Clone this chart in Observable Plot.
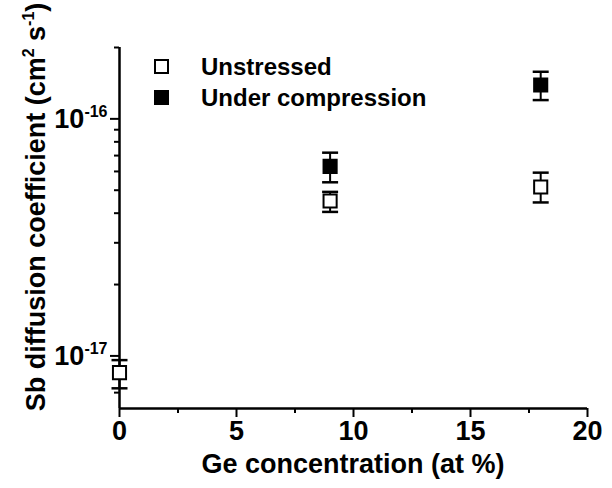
<!DOCTYPE html>
<html><head><meta charset="utf-8">
<script src="https://cdn.jsdelivr.net/npm/d3@7"></script>
<script src="https://cdn.jsdelivr.net/npm/@observablehq/plot@0.6"></script>
<style>
body{margin:0;background:#fff;}
#chart{position:relative;width:612px;height:488px;font-family:"Liberation Sans",Arial,sans-serif;}
#legend{position:absolute;left:154px;top:51px;font-size:24px;font-weight:bold;color:#000;}
.item{display:flex;align-items:center;height:31px;}
.sw{width:11px;height:11px;border:2px solid #000;margin-right:32px;box-sizing:content-box;}
</style></head>
<body><div id="chart"><div id="legend"></div></div>
<script>
// ---- data ----
const seriesNames = ["Unstressed", "Under compression"];
const seriesFill = ["white", "black"];

const geUnstressed = [0, 9, 18];
const dUnstressed = [8.5e-18, 4.5e-17, 5.16e-17];
const loUnstressed = [7.3e-18, 4.05e-17, 4.44e-17];
const hiUnstressed = [9.6e-18, 4.92e-17, 5.93e-17];

const geCompression = [9, 18];
const dCompression = [6.3e-17, 1.39e-16];
const loCompression = [5.4e-17, 1.2e-16];
const hiCompression = [7.2e-17, 1.58e-16];

const xMajor = [0, 5, 10, 15, 20];
const xMinor = [2.5, 7.5, 12.5, 17.5];
const yMajor = [1e-17, 1e-16];
const yMinor = [7e-18, 8e-18, 9e-18, 2e-17, 3e-17, 4e-17, 5e-17, 6e-17, 7e-17, 8e-17, 9e-17, 2e-16];
const xDomain = [0, 20];
const yDomain = [6e-18, 2e-16];

const xLabel = "Ge concentration (at %)";
const yLabelParts = ["Sb diffusion coefficient (cm", "2", " s", "-1", ")"];

// ---- build rows ----
const rows = [];
geUnstressed.forEach((g, i) => rows.push({series: seriesNames[0], ge: g, d: dUnstressed[i], lo: loUnstressed[i], hi: hiUnstressed[i]}));
geCompression.forEach((g, i) => rows.push({series: seriesNames[1], ge: g, d: dCompression[i], lo: loCompression[i], hi: hiCompression[i]}));

const capSymbol = {draw(ctx, size) { const h = Math.sqrt(size / Math.PI); ctx.moveTo(-h, 0); ctx.lineTo(h, 0); }};
const FONT = '"Liberation Sans", Arial, sans-serif';

const svg = Plot.plot({
  width: 612, height: 488,
  marginLeft: 119, marginRight: 25, marginTop: 47, marginBottom: 80,
  style: {fontFamily: FONT, fontWeight: "bold", background: "white", color: "black"},
  x: {domain: xDomain},
  y: {type: "log", domain: yDomain},
  marks: [
    Plot.axisX(xMajor, {tickSize: 9, tickPadding: 3, strokeWidth: 2, fontSize: 27, fontWeight: "bold", tickFormat: d => String(d), label: null}),
    Plot.axisX(xMinor, {tickSize: 5, strokeWidth: 2, tickFormat: () => "", label: null}),
    Plot.axisY(yMajor, {tickSize: 9, tickPadding: 3, strokeWidth: 2, fontSize: 27, fontWeight: "bold", tickFormat: d => "10^" + Math.round(Math.log10(d)), label: null}),
    Plot.axisY(yMinor, {tickSize: 5, strokeWidth: 2, tickFormat: () => "", label: null}),
    Plot.ruleX([xDomain[0]], {strokeWidth: 2.5}),
    Plot.ruleY([yDomain[0]], {strokeWidth: 2.5}),
    Plot.ruleX(rows, {x: "ge", y1: "lo", y2: "hi", strokeWidth: 2}),
    Plot.dot(rows, {x: "ge", y: "lo", r: 8, symbol: capSymbol, stroke: "black", strokeWidth: 2.5}),
    Plot.dot(rows, {x: "ge", y: "hi", r: 8, symbol: capSymbol, stroke: "black", strokeWidth: 2.5}),
    Plot.dot(rows, {x: "ge", y: "d", r: 7.4, symbol: "square", stroke: "black", strokeWidth: 2,
      fill: d => seriesFill[seriesNames.indexOf(d.series)]})
  ]
});

const chart = document.getElementById("chart");
chart.insertBefore(svg, chart.firstChild);

// superscripts on y tick labels
const NS = "http://www.w3.org/2000/svg";
svg.querySelectorAll("text").forEach(t => {
  const m = t.textContent.match(/^10\^(-?\d+)$/);
  if (m) {
    t.textContent = "";
    const a = document.createElementNS(NS, "tspan"); a.textContent = "10"; t.appendChild(a);
    const b = document.createElementNS(NS, "tspan"); b.textContent = m[1]; b.setAttribute("dy", "-11"); b.setAttribute("font-size", "16"); t.appendChild(b);
  }
});

// axis labels
const xl = document.createElementNS(NS, "text");
xl.setAttribute("x", 353); xl.setAttribute("y", 473);
xl.setAttribute("text-anchor", "middle"); xl.setAttribute("font-size", 27); xl.setAttribute("font-weight", "bold");
xl.setAttribute("font-family", FONT); xl.setAttribute("fill", "black");
xl.textContent = xLabel;
svg.appendChild(xl);

const yl = document.createElementNS(NS, "text");
yl.setAttribute("transform", "translate(45,207) rotate(-90)");
yl.setAttribute("text-anchor", "middle"); yl.setAttribute("font-size", 27); yl.setAttribute("font-weight", "bold");
yl.setAttribute("font-family", FONT); yl.setAttribute("fill", "black");
const supShift = 11;
yLabelParts.forEach((p, i) => {
  const s = document.createElementNS(NS, "tspan");
  s.textContent = p;
  if (i === 1 || i === 3) { s.setAttribute("font-size", 16); s.setAttribute("dy", -supShift); }
  else if (i > 0) { s.setAttribute("dy", supShift); }
  yl.appendChild(s);
});
svg.appendChild(yl);

// legend
const legend = document.getElementById("legend");
seriesNames.forEach((name, i) => {
  const item = document.createElement("div"); item.className = "item";
  const sw = document.createElement("span"); sw.className = "sw"; sw.style.background = seriesFill[i];
  const lab = document.createElement("span"); lab.textContent = name;
  item.appendChild(sw); item.appendChild(lab); legend.appendChild(item);
});
</script>
</body></html>
